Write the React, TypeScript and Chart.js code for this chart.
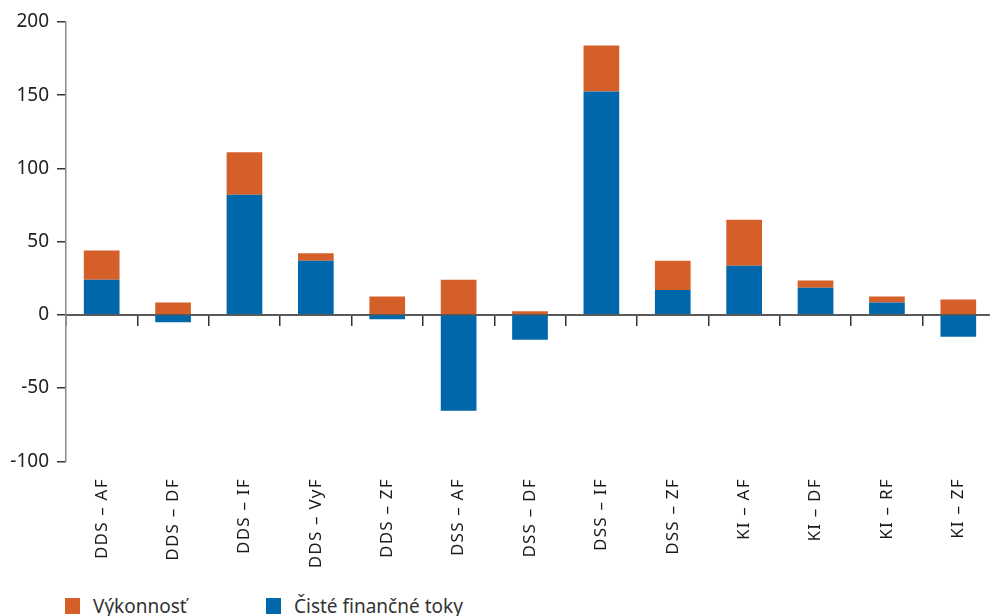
import React, { useEffect, useRef } from "react";
import { Chart, registerables } from "chart.js";

Chart.register(...registerables);

const categories = [
  "DDS – AF", "DDS – DF", "DDS – IF", "DDS – VyF", "DDS – ZF",
  "DSS – AF", "DSS – DF", "DSS – IF", "DSS – ZF",
  "KI – AF", "KI – DF", "KI – RF", "KI – ZF",
];
const netFlows = [24, -5, 82, 37, -3, -65.5, -17, 152.5, 17, 33.5, 18.5, 8.5, -15];
const performance = [20, 8.5, 29, 5, 12.5, 24, 2.5, 31.5, 20, 31.5, 5, 4, 10.5];
const yTicks = { min: -100, max: 200, step: 50 };
const seriesNames = { perf: "Výkonnosť", flows: "Čisté finančné toky" };

const ORANGE = "#D45F29";
const BLUE = "#0067AA";
const CANVAS_W = 1000;
const CANVAS_H = 590;

export default function App() {
  const ref = useRef<HTMLCanvasElement | null>(null);

  useEffect(() => {
    if (!ref.current) return;
    const chart = new Chart(ref.current, {
      type: "bar",
      data: {
        labels: categories,
        datasets: [
          {
            label: seriesNames.flows,
            data: netFlows,
            backgroundColor: BLUE,
            borderWidth: 0,
            xAxisID: "x",
            yAxisID: "y",
            barPercentage: 0.5,
            categoryPercentage: 1,
          },
          {
            label: seriesNames.perf,
            data: performance,
            backgroundColor: ORANGE,
            borderWidth: 0,
            xAxisID: "x",
            yAxisID: "y",
            barPercentage: 0.5,
            categoryPercentage: 1,
          },
        ],
      },
      options: {
        animation: false,
        responsive: false,
        maintainAspectRatio: false,
        layout: { padding: { top: 22, right: 6, bottom: 0, left: 0 } },
        plugins: { legend: { display: false }, tooltip: { enabled: false } },
        scales: {
          x: {
            type: "category",
            stacked: true,
            position: "bottom",
            grid: { display: false, drawTicks: false },
            border: { display: false },
            ticks: {
              minRotation: 90,
              maxRotation: 90,
              padding: 17,
              autoSkip: false,
              color: "#1a1a1a",
              font: { family: "Noto Sans", size: 17 },
            },
            afterFit: (s: any) => {
              s.height = CANVAS_H - 461.3;
            },
            afterUpdate: (s: any) => {
              if (s.__spaced) return;
              s.__spaced = true;
              const orig = s.drawLabels.bind(s);
              s.drawLabels = (area: any) => {
                const ctx = s.ctx as any;
                const prev = ctx.letterSpacing;
                ctx.letterSpacing = "1.2px";
                orig(area);
                ctx.letterSpacing = prev || "0px";
              };
            },
          },
          x2: {
            type: "category",
            labels: categories,
            position: { y: 0 } as any,
            offset: true,
            grid: {
              offset: true,
              drawOnChartArea: false,
              drawTicks: true,
              tickLength: 10,
              color: "#333",
              lineWidth: 1.5,
            },
            border: { display: true, color: "#5a5a5a", width: 2 },
            ticks: { display: false },
          },
          y: {
            stacked: true,
            min: yTicks.min,
            max: yTicks.max,
            ticks: {
              stepSize: yTicks.step,
              padding: 8,
              color: "#222",
              font: { family: "Noto Sans", size: 19 },
            },
            grid: {
              drawOnChartArea: false,
              drawTicks: true,
              tickLength: 9,
              color: "#333",
              lineWidth: 1.5,
            },
            border: { display: true, color: "#8a8a8a", width: 1.5 },
            afterFit: (s: any) => {
              s.width = 66;
            },
          },
        },
      },
    });
    return () => chart.destroy();
  }, []);

  const legendItem = (color: string, text: string, left: number) => (
    <div
      style={{
        position: "absolute",
        left,
        top: 596,
        display: "flex",
        alignItems: "center",
        height: 20,
      }}
    >
      <span style={{ display: "inline-block", width: 15, height: 16, background: color, marginRight: 13 }} />
      <span style={{ fontFamily: "Noto Sans", fontSize: 19, color: "#333", whiteSpace: "nowrap" }}>{text}</span>
    </div>
  );

  return (
    <div
      style={{
        position: "fixed",
        left: 0,
        top: 0,
        width: 990,
        height: 616,
        overflow: "hidden",
        background: "#fff",
      }}
    >
      <canvas ref={ref} width={CANVAS_W} height={CANVAS_H} style={{ display: "block", width: CANVAS_W, height: CANVAS_H }} />
      {legendItem(ORANGE, seriesNames.perf, 65)}
      {legendItem(BLUE, seriesNames.flows, 266)}
    </div>
  );
}
